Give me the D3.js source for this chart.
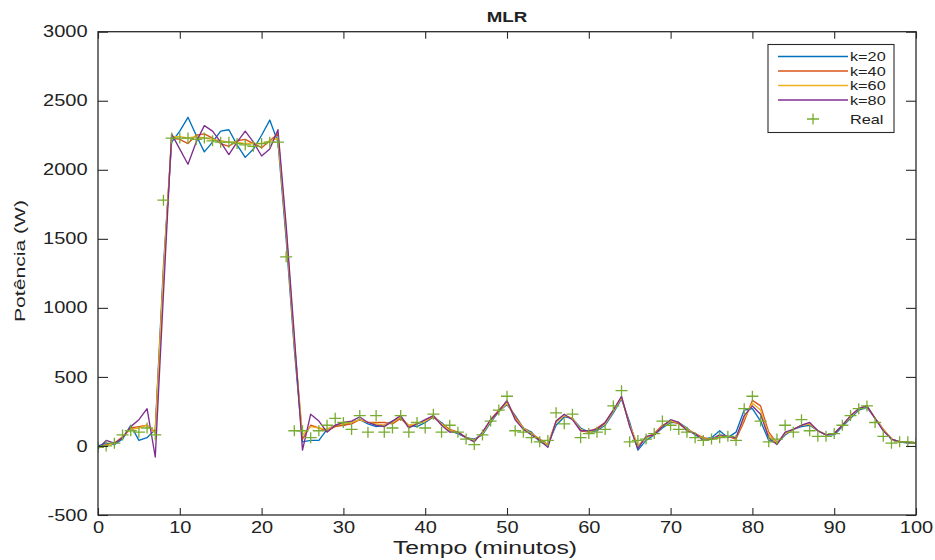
<!DOCTYPE html>
<html>
<head>
<meta charset="utf-8">
<script src="https://cdn.jsdelivr.net/npm/d3@7"></script>
<style>
  body { margin: 0; background: #fff; }
  text { font-family: "Liberation Sans", Arial, sans-serif; fill: #222; }
</style>
</head>
<body>
<svg id="chart" width="935" height="560"></svg>
<script>
// Time axis, one sample per minute
const minutes = d3.range(0, 101);

// Measured power (W)
const real = [
  -10, 0, 20, 80, 110, 100, 130, 80, 1780, 2230,
  2230, 2230, 2220, 2230, 2210, 2200, 2200, 2190, 2180, 2170,
  2190, 2200, 2200, 1370, 110, 110, 60, 110, 150, 200,
  170, 120, 220, 100, 220, 100, 130, 220, 100, 170,
  130, 230, 100, 150, 100, 50, 10, 80, 180, 260,
  360, 110, 100, 60, 30, 40, 240, 160, 230, 60,
  90, 100, 120, 290, 400, 30, 40, 50, 90, 180,
  150, 120, 100, 60, 40, 50, 60, 70, 40, 270,
  360, 180, 30, 50, 150, 100, 190, 110, 70, 70,
  90, 150, 220, 270, 290, 170, 70, 20, 30, 30,
  20
];

// MLR predictions for each k
const k20 = [
  0, 20, 10, 50, 150, 40, 60, 120, 1300, 2200,
  2280, 2380, 2250, 2130, 2200, 2280, 2290, 2180, 2090, 2150,
  2250, 2360, 2200, 1500, 700, 30, 40, 40, 120, 150,
  150, 170, 190, 160, 140, 150, 180, 200, 150, 140,
  170, 210, 170, 110, 90, 60, 50, 80, 170, 250,
  300, 220, 130, 100, 30, 10, 150, 210, 200, 130,
  100, 110, 150, 240, 340, 170, -30, 40, 80, 130,
  170, 170, 130, 80, 50, 60, 110, 60, 100, 260,
  270, 180, 40, 20, 80, 120, 140, 150, 110, 80,
  80, 140, 200, 260, 280, 200, 120, 50, 30, 20,
  20
];
const k40 = [
  -10, 10, 20, 60, 130, 140, 150, 100, 1250, 2230,
  2220, 2190, 2250, 2260, 2230, 2190, 2170, 2210, 2220, 2190,
  2160, 2210, 2260, 1550, 750, 50, 150, 130, 110, 140,
  150, 160, 190, 170, 170, 170, 160, 200, 140, 160,
  180, 210, 160, 120, 100, 60, 40, 90, 190, 260,
  320, 210, 130, 90, 50, 10, 180, 220, 200, 110,
  100, 130, 170, 260, 350, 150, 0, 60, 90, 150,
  180, 160, 120, 90, 60, 50, 60, 70, 50, 180,
  330, 290, 100, 20, 90, 120, 150, 160, 110, 80,
  90, 150, 210, 270, 290, 200, 120, 50, 30, 30,
  20
];
const k60 = [
  -10, 0, 20, 70, 120, 130, 150, 90, 1250, 2240,
  2240, 2230, 2240, 2230, 2220, 2210, 2200, 2200, 2190, 2190,
  2190, 2210, 2230, 1560, 750, 80, 140, 130, 120, 150,
  160, 170, 190, 170, 160, 150, 170, 210, 150, 160,
  180, 220, 160, 110, 100, 60, 40, 90, 180, 250,
  310, 200, 130, 90, 40, 10, 170, 220, 200, 120,
  100, 120, 160, 250, 350, 150, 0, 60, 80, 140,
  180, 170, 120, 90, 50, 50, 70, 70, 60, 200,
  310, 260, 80, 20, 90, 120, 150, 160, 110, 80,
  90, 150, 210, 270, 290, 200, 120, 50, 30, 25,
  20
];
const k80 = [
  -20, 40, 20, 60, 140, 190, 270, -80, 1100, 2260,
  2150, 2040, 2200, 2320, 2280, 2200, 2110, 2200, 2280, 2200,
  2100, 2150, 2290, 1600, 800, -30, 230, 180, 100, 150,
  170, 180, 210, 170, 150, 140, 180, 220, 130, 160,
  190, 220, 150, 100, 100, 60, 30, 100, 190, 250,
  330, 190, 120, 80, 40, -10, 180, 230, 190, 110,
  110, 120, 170, 260, 360, 140, -20, 70, 80, 140,
  190, 170, 110, 90, 40, 50, 80, 70, 60, 220,
  290, 230, 60, 10, 100, 120, 150, 170, 110, 80,
  90, 150, 220, 270, 290, 200, 110, 50, 30, 25,
  20
];

const seriesNames = ["k=20", "k=40", "k=60", "k=80"];
const seriesColors = ["#0072BD", "#D95319", "#EDB120", "#7E2F8E"];
const realName = "Real";
const realColor = "#77AC30";

const xTicks = d3.range(0, 101, 10);
const yTicks = d3.range(-500, 3001, 500);
const titleText = "MLR";
const xLabel = "Tempo (minutos)";
const yLabel = "Potência (W)";

// ---- layout ----
const svg = d3.select("#chart");
const box = { left: 98, right: 916, top: 31.7, bottom: 515 };
const SX = 1.25;            // horizontal stretch applied to horizontal text
const axisColor = "#2a2a2a";

const x = d3.scaleLinear().domain([0, 100]).range([box.left, box.right]);
const y = d3.scaleLinear().domain([-500, 3000]).range([box.bottom, box.top]);

svg.append("rect").attr("width", 935).attr("height", 560).attr("fill", "#fff");

svg.append("defs").append("clipPath").attr("id", "plotClip")
  .append("rect")
  .attr("x", box.left).attr("y", box.top)
  .attr("width", box.right - box.left).attr("height", box.bottom - box.top);

// ---- data marks ----
const plot = svg.append("g").attr("clip-path", "url(#plotClip)");
const line = d3.line().x((d, i) => x(minutes[i])).y(d => y(d));

[k20, k40, k60, k80].forEach((vals, s) => {
  plot.append("path")
    .datum(vals)
    .attr("d", line)
    .attr("fill", "none")
    .attr("stroke", seriesColors[s])
    .attr("stroke-width", 1.35)
    .attr("stroke-linejoin", "round");
});

const plusPath = "M-6,0H6M0,-5.5V5.5";
plot.selectAll(".real")
  .data(real)
  .join("path")
  .attr("class", "real")
  .attr("transform", (d, i) => `translate(${x(minutes[i])},${y(d)})`)
  .attr("d", plusPath)
  .attr("fill", "none")
  .attr("stroke", realColor)
  .attr("stroke-width", 1.3);

// ---- axes (inward ticks on all four sides) ----
function styleAxis(g) {
  g.select(".domain").remove();
  g.selectAll(".tick line").attr("stroke", axisColor).attr("stroke-width", 1.1);
  g.selectAll(".tick text")
    .style("font-size", "16px")
    .attr("fill", "#222");
}

const gx = svg.append("g")
  .attr("transform", `translate(0,${box.bottom})`)
  .call(d3.axisBottom(x).tickValues(xTicks).tickSize(-7).tickSizeOuter(0)
    .tickPadding(7).tickFormat(d => String(d)));
styleAxis(gx);
gx.selectAll(".tick text").attr("transform", `scale(${SX},1)`);

const gy = svg.append("g")
  .attr("transform", `translate(${box.left},0)`)
  .call(d3.axisLeft(y).tickValues(yTicks).tickSize(-10).tickSizeOuter(0)
    .tickPadding(10.5).tickFormat(d => String(d)));
styleAxis(gy);
gy.selectAll(".tick text")
  .attr("x", -10.5 / SX)
  .attr("transform", `scale(${SX},1)`);

const gt = svg.append("g")
  .attr("transform", `translate(0,${box.top})`)
  .call(d3.axisTop(x).tickValues(xTicks).tickSize(-7).tickSizeOuter(0).tickFormat(""));
styleAxis(gt);

const gr = svg.append("g")
  .attr("transform", `translate(${box.right},0)`)
  .call(d3.axisRight(y).tickValues(yTicks).tickSize(-10).tickSizeOuter(0).tickFormat(""));
styleAxis(gr);

svg.append("rect")
  .attr("x", box.left).attr("y", box.top)
  .attr("width", box.right - box.left).attr("height", box.bottom - box.top)
  .attr("fill", "none").attr("stroke", axisColor).attr("stroke-width", 1.3);

// ---- title and axis labels ----
const cx = (box.left + box.right) / 2;
svg.append("text")
  .attr("transform", `translate(${cx},22) scale(${SX},1)`)
  .attr("text-anchor", "middle")
  .style("font-size", "15px").style("font-weight", "bold")
  .text(titleText);

svg.append("text")
  .attr("x", 393).attr("y", 554)
  .attr("textLength", 184).attr("lengthAdjust", "spacingAndGlyphs")
  .style("font-size", "17.5px")
  .text(xLabel);

svg.append("text")
  .attr("transform", `translate(25,322) rotate(-90)`)
  .attr("x", 0).attr("y", 0)
  .attr("textLength", 122).attr("lengthAdjust", "spacingAndGlyphs")
  .style("font-size", "15px")
  .text(yLabel);

// ---- legend ----
const lg = svg.append("g");
lg.append("rect")
  .attr("x", 768).attr("y", 44.5).attr("width", 126).attr("height", 88)
  .attr("fill", "#fff").attr("stroke", axisColor).attr("stroke-width", 1.1);

const rowY = [56.5, 71, 85.5, 100, 119];
seriesNames.forEach((name, i) => {
  lg.append("line")
    .attr("x1", 778).attr("x2", 848)
    .attr("y1", rowY[i]).attr("y2", rowY[i])
    .attr("stroke", seriesColors[i]).attr("stroke-width", 1.35);
  lg.append("text")
    .attr("transform", `translate(850,${rowY[i] + 4.6}) scale(${SX},1)`)
    .style("font-size", "13px")
    .text(name);
});
lg.append("path")
  .attr("transform", `translate(813,${rowY[4]})`)
  .attr("d", plusPath)
  .attr("fill", "none").attr("stroke", realColor).attr("stroke-width", 1.3);
lg.append("text")
  .attr("transform", `translate(850,${rowY[4] + 4.6}) scale(${SX},1)`)
  .style("font-size", "13px")
  .text(realName);
</script>
</body>
</html>
